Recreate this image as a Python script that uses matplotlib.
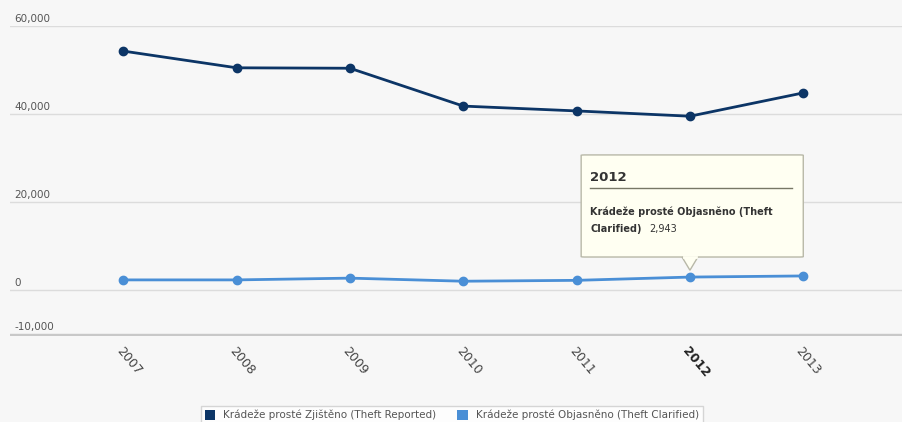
import numpy as np
import matplotlib.pyplot as plt
from matplotlib.patches import FancyBboxPatch, Polygon

years = ['2007', '2008', '2009', '2010', '2011', '2012', '2013']
reported = [54300, 50500, 50400, 41800, 40700, 39500, 44800]
clarified = [2300, 2300, 2700, 2000, 2200, 2943, 3200]
yticks = [-10000, 0, 20000, 40000, 60000]

dark = '#0c3566'
light = '#4a8fd6'
bg = '#f7f7f7'

fig = plt.figure(figsize=(9.03, 4.22), dpi=100)
fig.patch.set_facecolor(bg)
ax = fig.add_axes([10 / 903, 1 - 336 / 422, 893 / 903, (336 - 26) / 422])
ax.set_facecolor(bg)

x = np.arange(len(years))
ax.plot(x, reported, '-o', color=dark, lw=2, ms=6, label='Krádeže prosté Zjištěno (Theft Reported)', zorder=3)
ax.plot(x, clarified, '-o', color=light, lw=2, ms=6, label='Krádeže prosté Objasněno (Theft Clarified)', zorder=3)

ax.set_xlim(-1.0, 6.88)
ax.set_ylim(-10000 - 450, 60000)
for yv in yticks:
    ax.axhline(yv, color='#dcdcdc', lw=1, zorder=1)
    ax.text(0.005, yv + 500, f'{yv:,}', transform=ax.get_yaxis_transform(),
            fontsize=7.5, color='#555555', va='bottom', ha='left')
ax.axhline(-10450, color='#c8c8c8', lw=3, zorder=1)
ax.set_yticks([])
for s in ax.spines.values():
    s.set_visible(False)

ax.set_xticks(x)
ax.set_xticklabels(years)
ax.tick_params(axis='x', length=0, pad=6, labelsize=9, colors='#444444')
for lbl in ax.get_xticklabels():
    lbl.set_rotation(-50)
    lbl.set_ha('left')
    lbl.set_va('top')
    lbl.set_rotation_mode('anchor')
    if lbl.get_text() == '2012':
        lbl.set_fontweight('bold')
        lbl.set_color('#222222')

# tooltip
tx0, tx1 = 4.04, 6.0
ty0, ty1 = 7500, 30700
box = FancyBboxPatch((tx0, ty0), tx1 - tx0, ty1 - ty0, boxstyle='round,pad=0,rounding_size=0.03',
                     fc='#fffff2', ec='#b8b8a8', lw=1, zorder=5, mutation_aspect=3000)
ax.add_patch(box)
ax.add_patch(Polygon([[4.93, ty0], [5.0, 4500], [5.07, ty0]], closed=False,
                     fc='#fffff2', ec='#b8b8a8', lw=1, zorder=5))
ax.plot([4.95, 5.05], [ty0, ty0], color='#fffff2', lw=2, zorder=6)
ax.text(tx0 + 0.08, 25500, '2012', fontsize=9.5, fontweight='bold', color='#333333', va='center', zorder=7)
ax.plot([tx0 + 0.08, tx1 - 0.1], [23200, 23200], color='#777766', lw=1, zorder=7)
ax.text(tx0 + 0.08, 17700, 'Krádeže prosté Objasněno (Theft', fontsize=7, fontweight='bold',
        color='#333333', va='center', zorder=7)
ax.text(tx0 + 0.08, 13900, 'Clarified)', fontsize=7, fontweight='bold',
        color='#333333', va='center', zorder=7)
ax.text(tx0 + 0.6, 13900, '2,943', fontsize=7, color='#333333', va='center', zorder=7)

handles = [plt.Rectangle((0, 0), 1, 1, fc=dark), plt.Rectangle((0, 0), 1, 1, fc=light)]
leg = fig.legend(handles, ['Krádeže prosté Zjištěno (Theft Reported)', 'Krádeže prosté Objasněno (Theft Clarified)'],
                 loc='lower center', bbox_to_anchor=(452 / 903, -0.005), ncol=2, fontsize=7.5,
                 frameon=True, fancybox=False, edgecolor='#cccccc', facecolor='white',
                 handlelength=1.0, handleheight=1.1, columnspacing=2.0, borderpad=0.35,
                 borderaxespad=0.0)
for t in leg.get_texts():
    t.set_color('#555555')

fig.savefig('out.png', dpi=100, facecolor=bg)
